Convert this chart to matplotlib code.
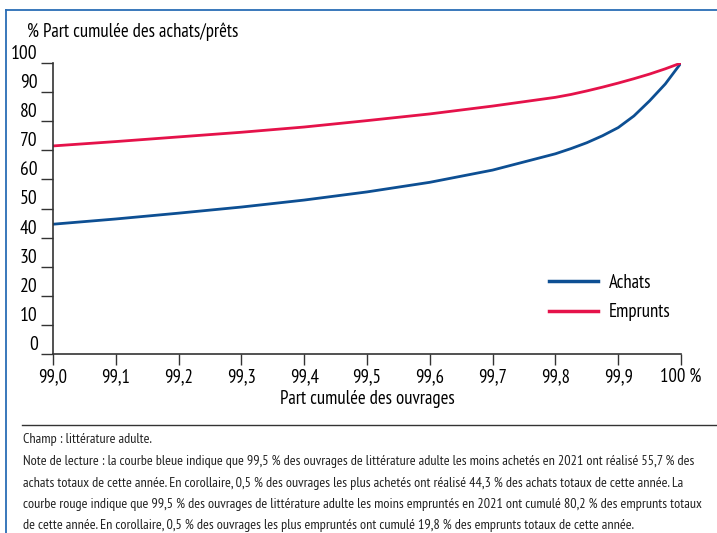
import matplotlib.pyplot as plt
from matplotlib.lines import Line2D

plt.rcParams['font.family'] = ['PT Sans Narrow', 'Liberation Sans', 'DejaVu Sans']

# cumulative share of titles (%)
part_ouvrages = [99.0, 99.1, 99.2, 99.3, 99.4, 99.5, 99.6, 99.7, 99.8, 99.825, 99.85,
                 99.875, 99.9, 99.925, 99.95, 99.975, 100.0]
achats = [44.6, 46.4, 48.4, 50.5, 52.9, 55.7, 59.0, 63.2, 68.8, 70.6, 72.6,
          75.0, 77.8, 81.8, 87.0, 92.8, 100.0]
emprunts = [71.5, 73.0, 74.6, 76.2, 78.0, 80.2, 82.5, 85.2, 88.2, 89.2, 90.4,
            91.7, 93.1, 94.6, 96.2, 98.0, 100.0]

x_ticks = [99.0, 99.1, 99.2, 99.3, 99.4, 99.5, 99.6, 99.7, 99.8, 99.9, 100.0]
x_labels = ['99,0', '99,1', '99,2', '99,3', '99,4', '99,5', '99,6', '99,7', '99,8', '99,9', '100 %']
y_ticks = [0, 10, 20, 30, 40, 50, 60, 70, 80, 90, 100]

notes = [
    "Champ : littérature adulte.",
    "Note de lecture : la courbe bleue indique que 99,5 % des ouvrages de littérature adulte les moins achetés en 2021 ont réalisé 55,7 % des",
    "achats totaux de cette année. En corollaire, 0,5 % des ouvrages les plus achetés ont réalisé 44,3 % des achats totaux de cette année. La",
    "courbe rouge indique que 99,5 % des ouvrages de littérature adulte les moins empruntés en 2021 ont cumulé 80,2 % des emprunts totaux",
    "de cette année. En corollaire, 0,5 % des ouvrages les plus empruntés ont cumulé 19,8 % des emprunts totaux de cette année.",
]

blue = '#0d4f93'
red = '#e5124a'
W, H = 717, 533

fig = plt.figure(figsize=(W / 100, H / 100), dpi=100)
ax = fig.add_axes([53 / W, 1 - 354 / H, (681 - 53) / W, (354 - 63) / H])

ax.plot(part_ouvrages, achats, color=blue, lw=2, solid_joinstyle='round')
ax.plot(part_ouvrages, emprunts, color=red, lw=2, solid_joinstyle='round')

ax.set_xlim(99.0, 100.0)
ax.set_ylim(0, 100)
ax.set_xticks(x_ticks)
ax.set_xticklabels(x_labels, fontsize=13.5)
ax.set_yticks(y_ticks)
ax.set_yticklabels([str(v) for v in y_ticks], fontsize=14, va='bottom')
ax.tick_params(axis='x', length=8, width=1, color='#333333', pad=2)
ax.tick_params(axis='y', length=9, width=1, color='#333333', pad=2)
for s in ['top', 'right']:
    ax.spines[s].set_visible(False)
for s in ['left', 'bottom']:
    ax.spines[s].set_color('#333333')
    ax.spines[s].set_linewidth(1.2)
ax.set_xlabel('Part cumulée des ouvrages', fontsize=13.5, labelpad=3)

fig.text(27 / W, 1 - 32 / H, '% Part cumulée des achats/prêts', fontsize=13.5, va='center', ha='left')

handles = [Line2D([0], [0], color=blue, lw=2.5), Line2D([0], [0], color=red, lw=2.5)]
ax.legend(handles, ['Achats', 'Emprunts'], loc='upper left', bbox_to_anchor=(0.79, 0.275),
          frameon=False, fontsize=13.5, handlelength=2.6, handletextpad=0.6, labelspacing=0.6,
          borderpad=0, borderaxespad=0)

# frame and separator
fig.add_artist(Line2D([6 / W, 6 / W], [0, 1 - 10 / H], color='#2a6db5', lw=1.3))
fig.add_artist(Line2D([6 / W, 1], [1 - 10 / H, 1 - 10 / H], color='#2a6db5', lw=1.3))
fig.add_artist(Line2D([22 / W, 1], [1 - 425 / H, 1 - 425 / H], color='#333333', lw=1))

for i, line in enumerate(notes):
    fig.text(23 / W, 1 - (440 + i * 21.5) / H, line, fontsize=10.2, va='center', ha='left', color='#222222')

fig.savefig('out.png', dpi=100)
